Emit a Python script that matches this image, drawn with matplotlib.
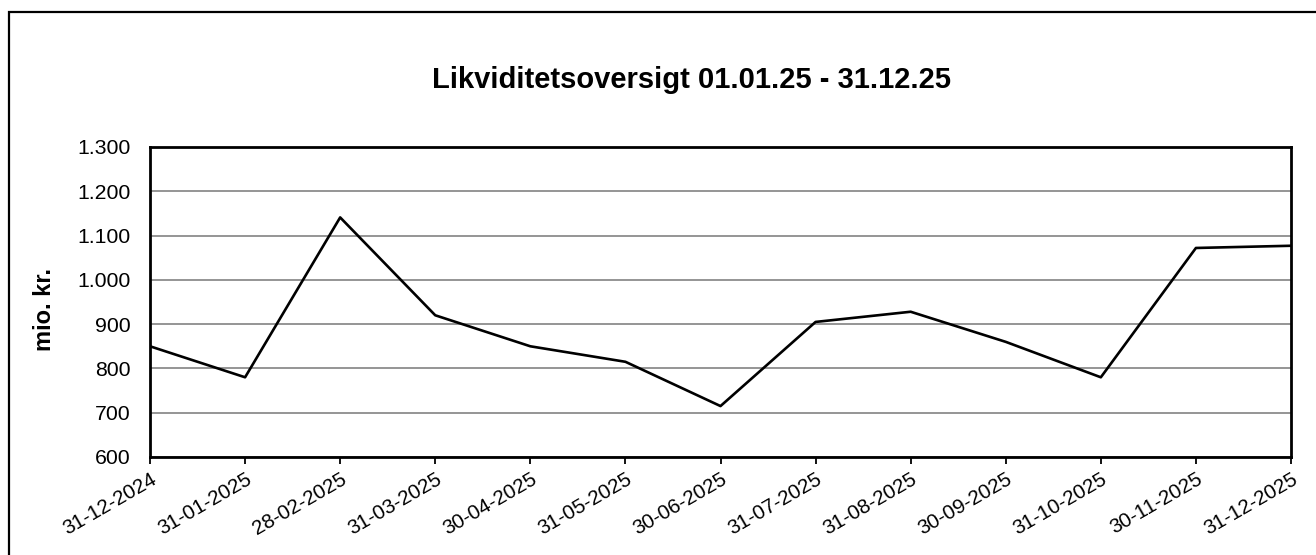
import numpy as np
import matplotlib.pyplot as plt
from matplotlib.patches import Rectangle

plt.rcParams['font.family'] = ['Liberation Sans', 'DejaVu Sans']

# Data
datoer = ['31-12-2024', '31-01-2025', '28-02-2025', '31-03-2025', '30-04-2025',
          '31-05-2025', '30-06-2025', '31-07-2025', '31-08-2025', '30-09-2025',
          '31-10-2025', '30-11-2025', '31-12-2025']
likviditet = [850, 780, 1141, 920, 850, 815, 715, 905, 928, 860, 780, 1072, 1077]
y_ticks = [600, 700, 800, 900, 1000, 1100, 1200, 1300]
y_labels = ['600', '700', '800', '900', '1.000', '1.100', '1.200', '1.300']

W, H = 1316, 555
fig = plt.figure(figsize=(W / 100, H / 100), dpi=100)

# outer chart frame (runs off the canvas right and bottom)
fig.patches.append(Rectangle((9 / W, -0.1), 1.2, 1 - 12 / H + 0.1,
                             transform=fig.transFigure, fill=False,
                             edgecolor='black', linewidth=1.6))

ax = fig.add_axes([150 / W, 1 - 457 / H, (1291 - 150) / W, (457 - 147) / H])

x = np.arange(len(datoer))
ax.plot(x, likviditet, color='black', linewidth=1.9, zorder=3)

ax.set_xlim(0, len(datoer) - 1)
ax.set_ylim(600, 1300)
ax.set_yticks(y_ticks)
ax.set_yticklabels(y_labels)
ax.set_xticks(x)
ax.set_xticklabels(datoer, rotation=30, ha='right', rotation_mode='anchor')

ax.yaxis.grid(True, color='#8c8c8c', linewidth=1.3)
ax.set_axisbelow(True)
for s in ax.spines.values():
    s.set_linewidth(2.0)
    s.set_color('black')

ax.tick_params(axis='y', length=0, pad=14, labelsize=15.3)
ax.tick_params(axis='x', length=5, width=1.3, pad=4, labelsize=14.8)

ax.set_ylabel('mio. kr.', fontsize=17, fontweight='bold')
ax.yaxis.set_label_coords(-0.082, 0.477)

fig.text(691 / W, 1 - 80 / H, 'Likviditetsoversigt 01.01.25 - 31.12.25',
         ha='center', va='center', fontsize=21, fontweight='bold')

fig.savefig('out.png', dpi=100)
